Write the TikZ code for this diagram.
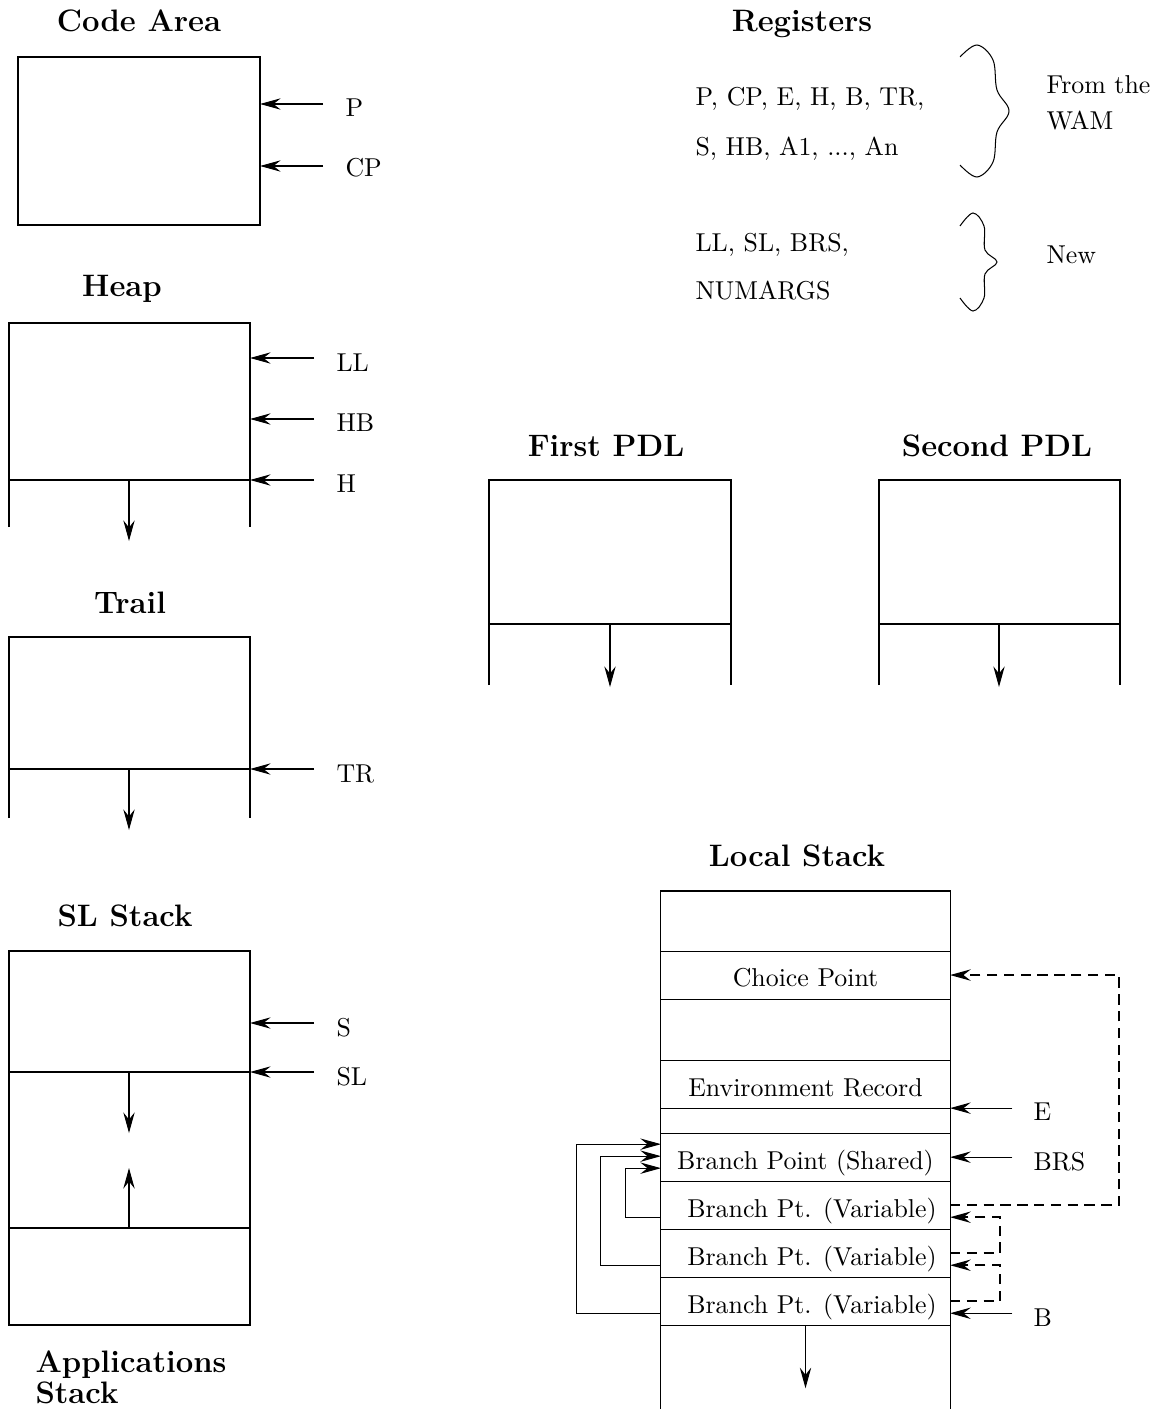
\documentclass[tikz,border=0pt]{standalone}
\usetikzlibrary{arrows.meta, positioning, calc}

\tikzset{
  title/.style={font=\large\bfseries, anchor=base, inner sep=0pt},
  lbl/.style={anchor=base west, inner sep=0pt},
  txt/.style={anchor=base west, inner sep=0pt},
  ptr/.style={-{Stealth[length=8pt,width=4.4pt,inset=2.8pt]}},
  regptr/.style={ptr, shorten <=8.5pt},
  back/.style={ptr, dash pattern=on 4pt off 2.5pt, line width=0.6pt},
  cell/.style={draw, inner sep=0pt, outer sep=0pt, minimum width=3.93cm, minimum height=0.653cm,
               text height=9.2pt, text depth=0pt}
}

\begin{document}
\begin{tikzpicture}[x=0.0136cm, y=-0.0136cm, line width=0.4pt, node distance=0pt]
  \useasboundingbox (0,0) rectangle (1161,1409);

  % Code area
  \node[title] (codeT) at (139,32) {Code Area};
  \draw (18,57) rectangle (260,225);
  \coordinate (codeP) at (260,104);
  \coordinate (codeCP) at (260,166);
  \node[lbl] (P) at (345,117) {P};
  \node[lbl] (CP) at (345,177) {CP};
  \draw[regptr] (P.west |- codeP) -- (codeP);
  \draw[regptr] (CP.west |- codeCP) -- (codeCP);

  % Heap
  \node[title] (heapT) at (122,296) {Heap};
  \draw (9,527) -- (9,323) -- (250,323) -- (250,527);
  \draw (9,480) -- (250,480);
  \coordinate (heapTop) at (129,480);
  \coordinate (heapEnd) at (129,541);
  \draw[ptr] (heapTop) -- (heapEnd);
  \coordinate (heapLL) at (250,358);
  \coordinate (heapHB) at (250,419);
  \coordinate (heapH) at (250,480);
  \node[lbl] (LL) at (336,371) {LL};
  \node[lbl] (HB) at (336,431) {HB};
  \node[lbl] (H) at (336,492) {H};
  \draw[regptr] (LL.west |- heapLL) -- (heapLL);
  \draw[regptr] (HB.west |- heapHB) -- (heapHB);
  \draw[regptr] (H.west |- heapH) -- (heapH);

  % Trail
  \node[title] (trailT) at (130,613) {Trail};
  \draw (9,818) -- (9,637) -- (250,637) -- (250,818);
  \draw (9,769) -- (250,769);
  \coordinate (trailTop) at (129,769);
  \coordinate (trailEnd) at (129,830);
  \draw[ptr] (trailTop) -- (trailEnd);
  \coordinate (trailTR) at (250,769);
  \node[lbl] (TR) at (336,782) {TR};
  \draw[regptr] (TR.west |- trailTR) -- (trailTR);

  % SL stack
  \node[title] (slT) at (125,926) {SL Stack};
  \draw (9,951) rectangle (250,1325);
  \draw (9,1072) -- (250,1072);
  \draw (9,1228) -- (250,1228);
  \coordinate (slTop) at (129,1072);
  \coordinate (slDown) at (129,1133);
  \coordinate (appTop) at (129,1228);
  \coordinate (appUp) at (129,1168);
  \draw[ptr] (slTop) -- (slDown);
  \draw[ptr] (appTop) -- (appUp);
  \coordinate (slS) at (250,1023);
  \coordinate (slSL) at (250,1072);
  \node[lbl] (S) at (336,1036) {S};
  \node[lbl] (SL) at (336,1085) {SL};
  \draw[regptr] (S.west |- slS) -- (slS);
  \draw[regptr] (SL.west |- slSL) -- (slSL);
  \node[font=\large\bfseries, align=left, anchor=north west, inner sep=0pt]
    (appT) at (35,1350) {Applications\\[-2pt]Stack};

  % Registers
  \node[title] (regT) at (802,32) {Registers};
  \node[txt] (wam1) at (695,106) {P, CP, E, H, B, TR,};
  \node[txt] (wam2) at (695,155) {S, HB, A1, ..., An};
  \node[txt] (new1) at (695,251) {LL, SL, BRS,};
  \node[txt] (new2) at (695,299) {NUMARGS};
  \draw plot[smooth, tension=0.6] coordinates {(960,57) (977,45) (993,60) (997,90)
    (1009,111) (997,132) (993,162) (977,177) (960,165)};
  \draw plot[smooth, tension=0.6] coordinates {(960,226) (973,213) (984,226) (985,250)
    (997,262) (985,274) (984,298) (973,311) (960,298)};
  \node[txt] (fromT) at (1046,94) {From the};
  \node[txt] (wamT) at (1046,130) {WAM};
  \node[txt] (newT) at (1046,263) {New};

  % First and second PDL
  \node[title] (pdl1T) at (606,456) {First PDL};
  \draw (489,685) -- (489,480) -- (731,480) -- (731,685);
  \draw (489,624) -- (731,624);
  \coordinate (pdl1Top) at (610,624);
  \coordinate (pdl1End) at (610,687);
  \draw[ptr] (pdl1Top) -- (pdl1End);

  \node[title] (pdl2T) at (997,456) {Second PDL};
  \draw (879,685) -- (879,480) -- (1120,480) -- (1120,685);
  \draw (879,624) -- (1120,624);
  \coordinate (pdl2Top) at (999,624);
  \coordinate (pdl2End) at (999,687);
  \draw[ptr] (pdl2Top) -- (pdl2End);

  % Local stack
  \node[title] (lsT) at (797,866) {Local Stack};
  \node[cell, minimum height=0.816cm, anchor=north] (ls0) at (805.5,891) {};
  \node[cell, below=of ls0] (lsCP) {Choice Point};
  \node[cell, minimum height=0.830cm, below=of lsCP] (ls1) {};
  \node[cell, below=of ls1] (lsEnv) {Environment Record};
  \node[cell, minimum height=0.340cm, below=of lsEnv] (ls2) {};
  \node[cell, below=of ls2] (lsSh) {Branch Point (Shared)};
  \node[cell, below=of lsSh] (lsV1) {\hspace*{5pt}Branch Pt. (Variable)};
  \node[cell, below=of lsV1] (lsV2) {\hspace*{5pt}Branch Pt. (Variable)};
  \node[cell, below=of lsV2] (lsV3) {\hspace*{5pt}Branch Pt. (Variable)};
  \draw (lsV3.south west) -- ++(0,90);
  \draw (lsV3.south east) -- ++(0,90);
  \draw[ptr] (lsV3.south) -- ++(0,63);

  % Branch points back to the shared one
  \draw[ptr] ($(lsV1.west)+(0,12)$) -- ++(-35,0) |- ($(lsSh.west)+(0,11)$);
  \draw[ptr] ($(lsV2.west)+(0,12)$) -- ++(-60,0) |- ($(lsSh.west)+(0,-1)$);
  \draw[ptr] ($(lsV3.west)+(0,12)$) -- ++(-84,0) |- ($(lsSh.west)+(0,-13)$);

  % Backtracking chain
  \draw[back] (lsV1.east) -- ++(169,0) |- (lsCP.east);
  \draw[back] (lsV2.east) -- ++(50,0) |- ($(lsV1.east)+(0,12)$);
  \draw[back] (lsV3.east) -- ++(50,0) |- ($(lsV2.east)+(0,12)$);

  % Register pointers
  \coordinate (lsE) at (lsEnv.south east);
  \coordinate (lsB) at ($(lsV3.east)+(0,12)$);
  \node[lbl] (E) at (1033,1120) {E};
  \node[lbl] (BRS) at (1033,1170) {BRS};
  \node[lbl] (B) at (1033,1326) {B};
  \draw[regptr, shorten <=8pt] (E.west |- lsE) -- (lsE);
  \draw[regptr, shorten <=8pt] (BRS.west |- lsSh.east) -- (lsSh.east);
  \draw[regptr, shorten <=8pt] (B.west |- lsB) -- (lsB);
\end{tikzpicture}
\end{document}
